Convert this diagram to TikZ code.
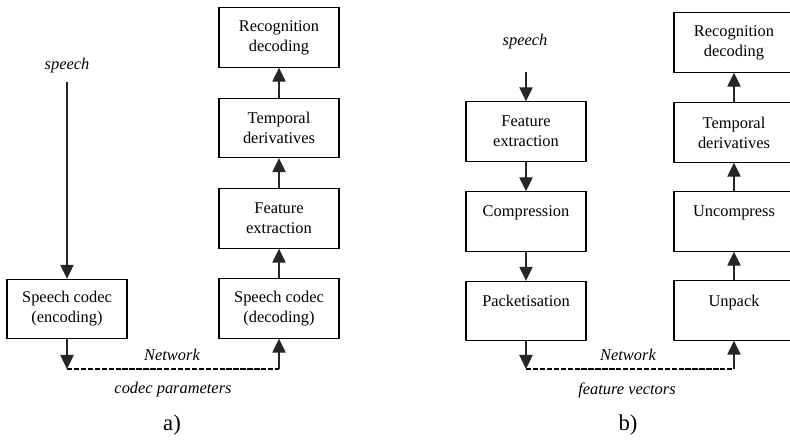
\documentclass[tikz,border=0pt]{standalone}
\usepackage{fontspec}
\setmainfont{Liberation Serif}
\usetikzlibrary{arrows.meta}
\begin{document}
\begin{tikzpicture}[x=0.75pt,y=-0.75pt,
  font=\fontsize{12.3}{15}\selectfont,
  blockbox/.style={draw=black, line width=0.8pt, minimum width=90pt,
    minimum height=44.5pt, inner sep=0pt, align=center},
  flow/.style={draw=black!85, line width=0.9pt,
    -{Triangle[width=10pt,length=10.5pt]}},
  link/.style={draw=black, line width=1.6pt, dash pattern=on 4pt off 1.2pt},
  lbl/.style={font=\fontsize{12.3}{15}\selectfont\itshape, inner sep=0pt},
  caption/.style={font=\fontsize{17}{20}\selectfont, inner sep=0pt}]
\clip (0,0) rectangle (790,445);

% ---------- a) codec-based front end ----------
\node[lbl] (speechA) at (67,66) {speech};
\coordinate (inA) at (67,82);
\node[blockbox] (enc) at (67,309) {Speech codec\\(encoding)};
\node[blockbox] (dec) at (279,308.5) {Speech codec\\(decoding)};
\node[blockbox] (feA) at (279,218.5) {Feature\\extraction};
\node[blockbox] (tdA) at (279,128) {Temporal\\derivatives};
\node[blockbox] (rdA) at (279,37.5) {Recognition\\decoding};
\coordinate (netA1) at (67,369);
\coordinate (netA2) at (279,369);

\draw[flow] (inA) -- (enc.north);
\draw[flow] (enc.south) -- (netA1);
\draw[link] (netA1) -- (netA2);
\draw[flow] (netA2) -- (dec.south);
\draw[flow] (dec.north) -- (feA.south);
\draw[flow] (feA.north) -- (tdA.south);
\draw[flow] (tdA.north) -- (rdA.south);

\node[lbl] (netlblA) at (172,355) {Network};
\node[lbl] (paramA) at (173,390) {codec parameters};
\node[caption] (capA) at (172,425) {a)};

% ---------- b) distributed front end ----------
\node[lbl] (speechB) at (525,42) {speech};
\coordinate (inB) at (526,72);
\node[blockbox] (feB) at (526,131.5) {Feature\\extraction};
\node[blockbox] (cmp) at (526,221.5) {Compression\\\mbox{}};
\node[blockbox] (pkt) at (526,311) {Packetisation\\\mbox{}};
\node[blockbox] (unp) at (734,310.5) {Unpack\\\mbox{}};
\node[blockbox] (unc) at (734,221.5) {Uncompress\\\mbox{}};
\node[blockbox] (tdB) at (734,132.5) {Temporal\\derivatives};
\node[blockbox] (rdB) at (734,42.5) {Recognition\\decoding};
\coordinate (netB1) at (526,369);
\coordinate (netB2) at (734,369);

\draw[flow] (inB) -- (feB.north);
\draw[flow] (feB.south) -- (cmp.north);
\draw[flow] (cmp.south) -- (pkt.north);
\draw[flow] (pkt.south) -- (netB1);
\draw[link] (netB1) -- (netB2);
\draw[flow] (netB2) -- (unp.south);
\draw[flow] (unp.north) -- (unc.south);
\draw[flow] (unc.north) -- (tdB.south);
\draw[flow] (tdB.north) -- (rdB.south);

\node[lbl] (netlblB) at (628,355) {Network};
\node[lbl] (vecB) at (627,390) {feature vectors};
\node[caption] (capB) at (628,425) {b)};
\end{tikzpicture}
\end{document}
